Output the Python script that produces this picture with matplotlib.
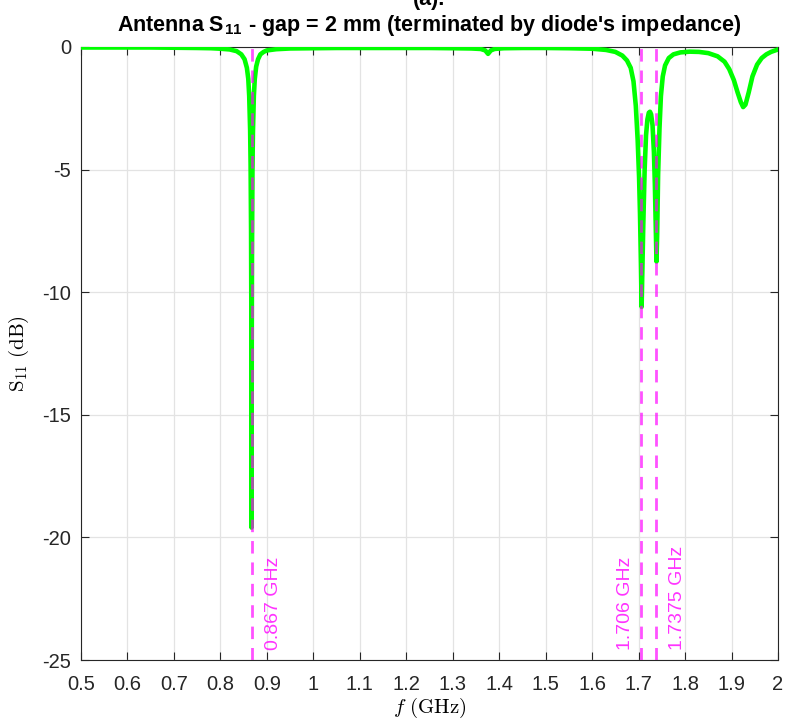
import matplotlib
matplotlib.use("Agg")
import matplotlib.pyplot as plt
import numpy as np

# ---- data ----
freq_ghz = [0.50, 0.55, 0.60, 0.65, 0.70, 0.75, 0.78, 0.80, 0.82, 0.835, 0.845, 0.852, 0.857,
            0.860, 0.862, 0.864, 0.865, 0.866, 0.8665, 0.867, 0.8675, 0.868, 0.869, 0.870,
            0.872, 0.874, 0.877, 0.881, 0.886, 0.893, 0.90, 0.92, 0.95, 1.00, 1.05, 1.10,
            1.15, 1.20, 1.25, 1.30, 1.34, 1.36, 1.37, 1.376, 1.382, 1.39, 1.41, 1.45, 1.50,
            1.55, 1.60, 1.63, 1.65, 1.665, 1.675, 1.683, 1.689, 1.694, 1.698, 1.701, 1.703,
            1.705, 1.7065, 1.708, 1.710, 1.713, 1.716, 1.719, 1.722, 1.7245, 1.727, 1.730,
            1.733, 1.735, 1.737, 1.7385, 1.740, 1.742, 1.745, 1.748, 1.752, 1.757, 1.765,
            1.775, 1.79, 1.81, 1.83, 1.85, 1.87, 1.885, 1.895, 1.905, 1.913, 1.92, 1.925,
            1.930, 1.937, 1.945, 1.955, 1.965, 1.975, 1.985, 2.00]
s11_db = [-0.02, -0.02, -0.02, -0.02, -0.03, -0.04, -0.05, -0.07, -0.10, -0.17, -0.30, -0.50, -0.85,
          -1.3, -2.0, -3.4, -4.8, -7.5, -10.5, -19.6, -12.0, -8.5, -5.0, -3.5,
          -2.0, -1.3, -0.8, -0.5, -0.3, -0.2, -0.14, -0.09, -0.06, -0.05, -0.04, -0.04,
          -0.04, -0.04, -0.04, -0.05, -0.06, -0.08, -0.14, -0.28, -0.14, -0.08, -0.05, -0.04, -0.04,
          -0.05, -0.07, -0.12, -0.20, -0.35, -0.55, -0.85, -1.4, -2.4, -3.8, -5.3, -6.8,
          -8.8, -10.6, -9.2, -7.3, -5.0, -3.6, -2.95, -2.68, -2.64, -2.75, -3.2,
          -4.3, -5.6, -7.4, -8.75, -7.6, -5.2, -3.3, -2.0, -1.2, -0.75, -0.45,
          -0.30, -0.22, -0.19, -0.20, -0.25, -0.38, -0.60, -0.90, -1.35, -1.85, -2.25, -2.45,
          -2.35, -1.85, -1.2, -0.72, -0.45, -0.30, -0.20, -0.10]
marker_freqs = [0.867, 1.706, 1.7375]
marker_labels = ["0.867 GHz", "1.706 GHz", "1.7375 GHz"]
marker_side = ["right", "left", "right"]
x_ticks = [0.5, 0.6, 0.7, 0.8, 0.9, 1.0, 1.1, 1.2, 1.3, 1.4, 1.5, 1.6, 1.7, 1.8, 1.9, 2.0]
x_ticklabels = ["0.5", "0.6", "0.7", "0.8", "0.9", "1", "1.1", "1.2", "1.3", "1.4", "1.5",
                "1.6", "1.7", "1.8", "1.9", "2"]
y_ticks = [-25, -20, -15, -10, -5, 0]
y_ticklabels = ["-25", "-20", "-15", "-10", "-5", "0"]

plt.rcParams["font.family"] = ["Liberation Sans", "DejaVu Sans"]
plt.rcParams["axes.unicode_minus"] = False
plt.rcParams["mathtext.fontset"] = "custom"
plt.rcParams["mathtext.rm"] = "cmr10"
plt.rcParams["mathtext.it"] = "cmmi10"
plt.rcParams["mathtext.bf"] = "Liberation Sans:bold"

W, H = 785, 722
fig = plt.figure(figsize=(W / 100, H / 100), dpi=100)
ax = fig.add_axes([81 / W, 1 - 660 / H, (778 - 81) / W, (660 - 47) / H])

ax.plot(freq_ghz, s11_db, color="#00ff00", lw=3.3, solid_joinstyle="round", zorder=3)

mag = "#ff00ff"
for f, lab, side in zip(marker_freqs, marker_labels, marker_side):
    ax.axvline(f, color=mag, alpha=0.68, lw=2.0, ls=(0, (4.5, 3.2)), zorder=4)
    dx = 9.5 if side == "right" else -5.5
    ax.annotate(lab, xy=(f, -24.6), xytext=(dx, 0), textcoords="offset points",
                rotation=90, ha=("left" if side == "right" else "right"), va="bottom",
                color=mag, alpha=0.8, fontsize=14)

ax.set_xlim(0.5, 2.0)
ax.set_ylim(-25, 0)
ax.set_xticks(x_ticks)
ax.set_xticklabels(x_ticklabels)
ax.set_yticks(y_ticks)
ax.set_yticklabels(y_ticklabels)
ax.tick_params(direction="in", length=6, width=0.8, top=True, right=True,
               labelsize=14.5, colors="#262626")
ax.tick_params(axis="x", pad=11)
ax.tick_params(axis="y", pad=7)
ax.grid(True, color="#e3e3e3", lw=0.9)
ax.set_axisbelow(True)
for sp in ax.spines.values():
    sp.set_color("#262626")
    sp.set_linewidth(0.8)

ax.set_xlabel(r"$f\ \mathrm{(GHz)}$", fontsize=15, labelpad=1)
ax.set_ylabel(r"$\mathrm{S}_{11}\ \mathrm{(dB)}$", fontsize=15, labelpad=8)

cx = (81 + 778) / 2 / W
fig.text(cx, 1 - 31 / H, r"Antenna S$_{\mathbf{11}}$ - gap = 2 mm (terminated by diode's impedance)",
         ha="center", va="baseline", fontsize=15.5, fontweight="bold")
fig.text(cx, 1 - 5 / H, "(a).", ha="center", va="baseline", fontsize=15.5, fontweight="bold")

fig.savefig("out.png", dpi=100)
